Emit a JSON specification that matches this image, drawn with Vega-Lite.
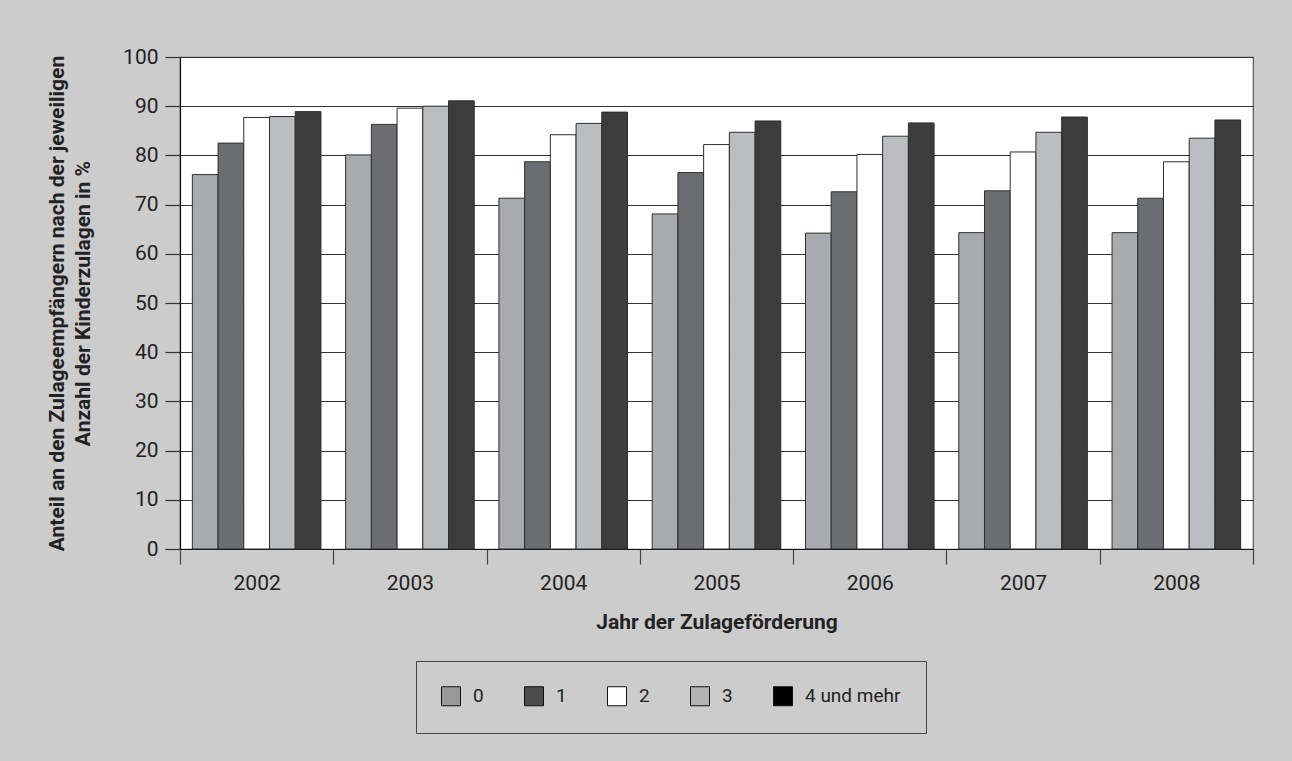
{
  "$schema": "https://vega.github.io/schema/vega-lite/v6.json",
  "width": 1073,
  "height": 492,
  "autosize": {"type": "none"},
  "padding": {"left": 180, "top": 57, "right": 39, "bottom": 212},
  "background": "#cccccc",
  "data": {
    "values": [
      {"jahr": "2002", "kinder": "0", "anteil": 76.1},
      {"jahr": "2002", "kinder": "1", "anteil": 82.5},
      {"jahr": "2002", "kinder": "2", "anteil": 87.7},
      {"jahr": "2002", "kinder": "3", "anteil": 87.9},
      {"jahr": "2002", "kinder": "4 und mehr", "anteil": 88.9},
      {"jahr": "2003", "kinder": "0", "anteil": 80.1},
      {"jahr": "2003", "kinder": "1", "anteil": 86.3},
      {"jahr": "2003", "kinder": "2", "anteil": 89.6},
      {"jahr": "2003", "kinder": "3", "anteil": 90.0},
      {"jahr": "2003", "kinder": "4 und mehr", "anteil": 91.1},
      {"jahr": "2004", "kinder": "0", "anteil": 71.3},
      {"jahr": "2004", "kinder": "1", "anteil": 78.7},
      {"jahr": "2004", "kinder": "2", "anteil": 84.2},
      {"jahr": "2004", "kinder": "3", "anteil": 86.5},
      {"jahr": "2004", "kinder": "4 und mehr", "anteil": 88.8},
      {"jahr": "2005", "kinder": "0", "anteil": 68.1},
      {"jahr": "2005", "kinder": "1", "anteil": 76.5},
      {"jahr": "2005", "kinder": "2", "anteil": 82.2},
      {"jahr": "2005", "kinder": "3", "anteil": 84.7},
      {"jahr": "2005", "kinder": "4 und mehr", "anteil": 87.0},
      {"jahr": "2006", "kinder": "0", "anteil": 64.2},
      {"jahr": "2006", "kinder": "1", "anteil": 72.6},
      {"jahr": "2006", "kinder": "2", "anteil": 80.2},
      {"jahr": "2006", "kinder": "3", "anteil": 83.9},
      {"jahr": "2006", "kinder": "4 und mehr", "anteil": 86.6},
      {"jahr": "2007", "kinder": "0", "anteil": 64.3},
      {"jahr": "2007", "kinder": "1", "anteil": 72.8},
      {"jahr": "2007", "kinder": "2", "anteil": 80.7},
      {"jahr": "2007", "kinder": "3", "anteil": 84.7},
      {"jahr": "2007", "kinder": "4 und mehr", "anteil": 87.8},
      {"jahr": "2008", "kinder": "0", "anteil": 64.3},
      {"jahr": "2008", "kinder": "1", "anteil": 71.3},
      {"jahr": "2008", "kinder": "2", "anteil": 78.7},
      {"jahr": "2008", "kinder": "3", "anteil": 83.5},
      {"jahr": "2008", "kinder": "4 und mehr", "anteil": 87.2}
    ]
  },
  "encoding": {
    "x": {
      "field": "jahr",
      "type": "nominal",
      "scale": {"paddingInner": 0, "paddingOuter": 0},
      "axis": {
        "title": "Jahr der Zulageförderung",
        "labelAngle": 0,
        "tickBand": "extent",
        "tickSize": 15,
        "tickColor": "#444444",
        "domainColor": "#111111",
        "labelPadding": 8,
        "titlePadding": 18
      }
    },
    "xOffset": {"field": "kinder", "type": "nominal", "scale": {"paddingInner": 0, "paddingOuter": 0.48}},
    "y": {
      "field": "anteil",
      "type": "quantitative",
      "scale": {"domain": [0, 100]},
      "axis": {
        "title": ["Anteil an den Zulageempfängern nach der jeweiligen", "Anzahl der Kinderzulagen in %"],
        "values": [0, 10, 20, 30, 40, 50, 60, 70, 80, 90, 100],
        "tickSize": 15,
        "tickColor": "#333333",
        "domainColor": "#111111",
        "grid": true,
        "gridColor": "#333333",
        "gridWidth": 1.2,
        "labelPadding": 7,
        "titlePadding": 29,
        "titleLineHeight": 26
      }
    }
  },
  "layer": [
    {
      "mark": {"type": "bar", "stroke": "#2e2e2e", "strokeWidth": 1, "opacity": 1},
      "encoding": {
        "fill": {
          "field": "kinder",
          "type": "nominal",
          "scale": {
            "domain": ["0", "1", "2", "3", "4 und mehr"],
            "range": ["#a9aaae", "#6c6d71", "#ffffff", "#bcbdc1", "#3c3c3c"]
          },
          "legend": null
        }
      }
    },
    {
      "mark": {"type": "bar", "opacity": 0},
      "encoding": {
        "fill": {
          "field": "kinder",
          "type": "nominal",
          "scale": {
            "domain": ["0", "1", "2", "3", "4 und mehr"],
            "range": ["#999999", "#4d4d4d", "#ffffff", "#b3b3b3", "#000000"]
          },
          "legend": {
            "title": null,
            "orient": "none",
            "legendX": 236,
            "legendY": 604,
            "direction": "horizontal",
            "columns": 5,
            "columnPadding": 38,
            "padding": 25,
            "strokeColor": "#444444",
            "symbolType": "square",
            "symbolSize": 361,
            "symbolOpacity": 1,
            "symbolStrokeColor": "#111111",
            "symbolStrokeWidth": 1,
            "labelOffset": 12,
            "labelFontSize": 19,
            "labelColor": "#222222",
            "labelFont": "Roboto"
          }
        }
      }
    }
  ],
  "resolve": {"scale": {"fill": "independent"}},
  "config": {
    "view": {"stroke": "#555555", "strokeWidth": 1.2, "fill": "#ffffff"},
    "axis": {
      "labelFont": "Roboto",
      "labelFontSize": 21,
      "labelColor": "#222222",
      "titleFont": "Roboto",
      "titleFontSize": 21,
      "titleFontWeight": "bold",
      "titleColor": "#222222",
      "domainWidth": 1.2,
      "tickWidth": 1.2
    }
  }
}
